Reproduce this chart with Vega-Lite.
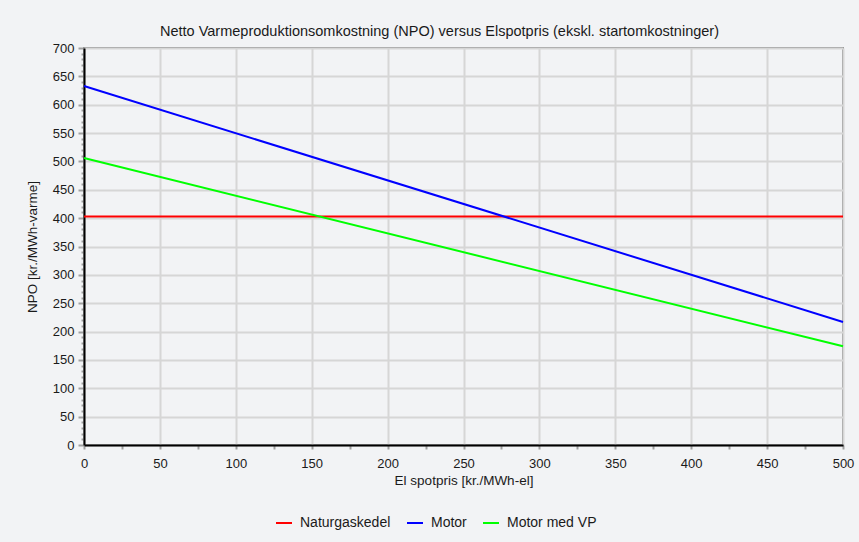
{
  "$schema": "https://vega.github.io/schema/vega-lite/v6.json",
  "width": 759,
  "height": 397,
  "autosize": "none",
  "padding": {"left": 84, "top": 48, "right": 16, "bottom": 97},
  "background": "#f2f3f5",
  "title": {
    "text": "Netto Varmeproduktionsomkostning (NPO) versus Elspotpris (ekskl. startomkostninger)",
    "font": "Liberation Sans",
    "fontSize": 14.5,
    "fontWeight": "normal",
    "color": "#1a1a1a",
    "anchor": "middle",
    "dx": -24,
    "offset": 3
  },
  "config": {
    "view": {"stroke": "#8a8a8a", "strokeWidth": 2},
    "axis": {
      "labelFont": "Liberation Sans",
      "labelFontSize": 13,
      "labelColor": "#1a1a1a",
      "titleFont": "Liberation Sans",
      "titleFontSize": 13.5,
      "titleFontWeight": "normal",
      "titleColor": "#1a1a1a",
      "domainColor": "#000000",
      "domainWidth": 2,
      "gridColor": "#d6d6d6",
      "gridWidth": 2,
      "tickColor": "#a0a0a0",
      "tickWidth": 2,
      "labelOverlap": false,
      "labelFlush": false
    },
    "legend": {
      "labelFont": "Liberation Sans",
      "labelFontSize": 14,
      "labelColor": "#1a1a1a",
      "padding": 0
    }
  },
  "data": {
    "values": [
      {"series": "Naturgaskedel", "pris": 0, "npo": 403},
      {"series": "Naturgaskedel", "pris": 500, "npo": 403},
      {"series": "Motor", "pris": 0, "npo": 633},
      {"series": "Motor", "pris": 500, "npo": 217},
      {"series": "Motor med VP", "pris": 0, "npo": 506},
      {"series": "Motor med VP", "pris": 500, "npo": 174}
    ]
  },
  "mark": {"type": "line", "strokeWidth": 2},
  "encoding": {
    "x": {
      "field": "pris",
      "type": "quantitative",
      "scale": {"domain": [0, 500], "nice": false, "zero": false},
      "axis": {
        "title": "El spotpris [kr./MWh-el]",
        "values": [0,25,50,75,100,125,150,175,200,225,250,275,300,325,350,375,400,425,450,475,500],
        "labelExpr": "datum.value % 50 === 0 ? datum.label : ''",
        "gridOpacity": {"condition": {"test": "datum.value % 50 === 0", "value": 1}, "value": 0},
        "tickSize": 4,
        "labelPadding": 8,
        "titlePadding": 3
      }
    },
    "y": {
      "field": "npo",
      "type": "quantitative",
      "scale": {"domain": [0, 700], "nice": false},
      "axis": {
        "title": "NPO [kr./MWh-varme]",
        "values": [0,10,20,30,40,50,60,70,80,90,100,110,120,130,140,150,160,170,180,190,200,210,220,230,240,250,260,270,280,290,300,310,320,330,340,350,360,370,380,390,400,410,420,430,440,450,460,470,480,490,500,510,520,530,540,550,560,570,580,590,600,610,620,630,640,650,660,670,680,690,700],
        "labelExpr": "datum.value % 50 === 0 ? datum.label : ''",
        "gridOpacity": {"condition": {"test": "datum.value % 50 === 0", "value": 1}, "value": 0},
        "tickSize": {"condition": {"test": "datum.value % 50 === 0", "value": 6}, "value": 3},
        "labelPadding": 4,
        "titlePadding": 13
      }
    },
    "color": {
      "field": "series",
      "type": "nominal",
      "scale": {
        "domain": ["Naturgaskedel", "Motor", "Motor med VP"],
        "range": ["#ff0000", "#0000ff", "#00ff00"]
      },
      "legend": {
        "title": null,
        "orient": "none",
        "legendX": 191,
        "legendY": 466,
        "direction": "horizontal",
        "symbolType": "stroke",
        "symbolSize": 256,
        "symbolStrokeWidth": 2,
        "labelOffset": 7,
        "columnPadding": 12
      }
    }
  }
}
